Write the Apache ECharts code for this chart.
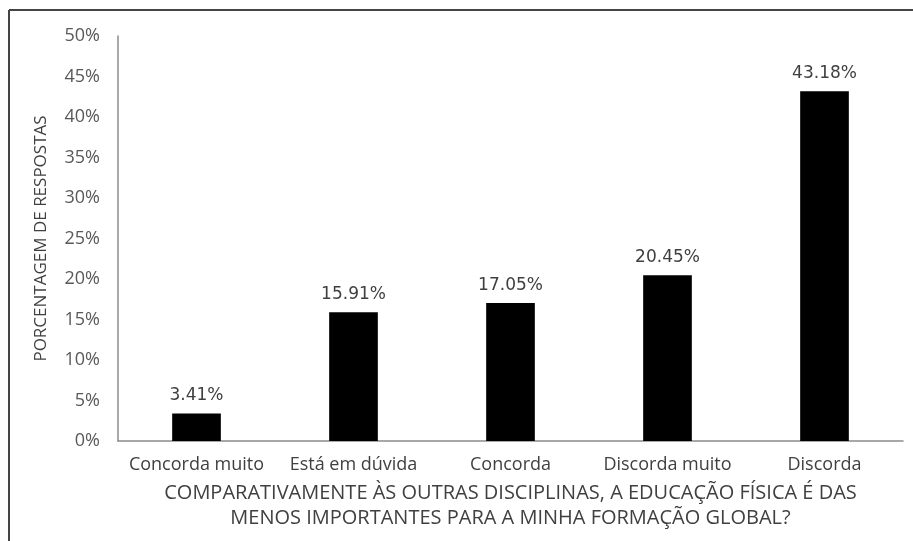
<!DOCTYPE html>
<html>
<head>
<meta charset="utf-8">
<script src="https://cdn.jsdelivr.net/npm/echarts@6/dist/echarts.min.js"></script>
<style>
  html, body { margin: 0; padding: 0; background: #fff; }
  #chart { width: 913px; height: 541px; }
</style>
</head>
<body>
<div id="chart"></div>
<script>
// Response categories and share of answers (%)
const categories = ['Concorda muito', 'Está em dúvida', 'Concorda', 'Discorda muito', 'Discorda'];
const values = [3.41, 15.91, 17.05, 20.45, 43.18];
const yTicks = { min: 0, max: 50, interval: 5 };
const yTitle = 'PORCENTAGEM DE RESPOSTAS';
const xTitle = 'COMPARATIVAMENTE ÀS OUTRAS DISCIPLINAS, A EDUCAÇÃO FÍSICA É DAS\nMENOS IMPORTANTES PARA A MINHA FORMAÇÃO GLOBAL?';

const chart = echarts.init(document.getElementById('chart'));
const font = '"Open Sans", sans-serif';

chart.setOption({
  backgroundColor: '#ffffff',
  animation: false,
  graphic: [
    { type: 'line', shape: { x1: 9, y1: 10, x2: 913, y2: 10 }, style: { stroke: '#444', lineWidth: 2 } },
    { type: 'line', shape: { x1: 9, y1: 10, x2: 9, y2: 541 }, style: { stroke: '#444', lineWidth: 2 } }
  ],
  grid: { left: 118, right: 10, top: 36, bottom: 100 },
  xAxis: {
    type: 'category',
    data: categories,
    axisLine: { lineStyle: { color: '#8c8c8c', width: 1.5 } },
    axisTick: { show: false },
    axisLabel: { interval: 0, color: '#404040', fontFamily: font, fontSize: 18, margin: 15 },
    name: xTitle,
    nameLocation: 'middle',
    nameGap: 40,
    nameTextStyle: { color: '#404040', fontFamily: font, fontSize: 20, lineHeight: 25 }
  },
  yAxis: {
    type: 'value',
    min: yTicks.min,
    max: yTicks.max,
    interval: yTicks.interval,
    splitLine: { show: false },
    axisLine: { show: true, lineStyle: { color: '#8c8c8c', width: 1.5 } },
    axisTick: { show: false },
    axisLabel: { color: '#595959', fontFamily: font, fontSize: 18, margin: 18, formatter: v => v + '%' },
    name: yTitle,
    nameLocation: 'middle',
    nameGap: 68,
    nameTextStyle: { color: '#404040', fontFamily: font, fontSize: 17 }
  },
  series: [{
    type: 'bar',
    data: values,
    barWidth: '31%',
    itemStyle: { color: '#000000' },
    label: {
      show: true,
      position: 'top',
      distance: 9,
      color: '#404040',
      fontFamily: '"DejaVu Sans", sans-serif',
      fontSize: 17,
      formatter: p => p.value.toFixed(2) + '%'
    }
  }]
});
</script>
</body>
</html>
